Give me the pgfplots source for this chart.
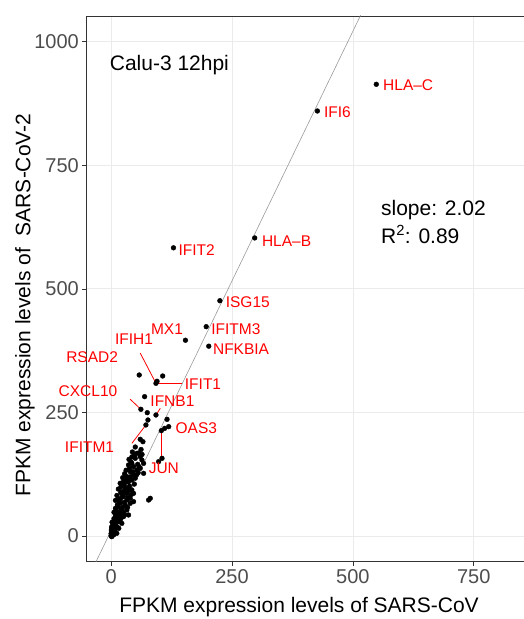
\documentclass[border=0pt]{standalone}
\usepackage{pgfplots}
\pgfplotsset{compat=1.18}
\usepackage{fontspec}
\setmainfont{Liberation Sans}
\definecolor{gridc}{HTML}{EBEBEB}
\definecolor{tickc}{HTML}{4D4D4D}
\definecolor{axc}{HTML}{333333}
\definecolor{fitc}{HTML}{9A9A9A}
\definecolor{labred}{HTML}{FF0000}
\newcommand{\lab}{\fontsize{15.5}{16}\selectfont}
\newcommand{\bigf}{\fontsize{21}{24}\selectfont}
\begin{document}
\begin{tikzpicture}[x=1pt,y=1pt]
\useasboundingbox (0,0) rectangle (524,619);
\begin{axis}[
  at={(86.3pt,57.3pt)}, anchor=south west,
  scale only axis, width=437.7pt, height=545.7pt,
  xmin=-51.3, xmax=854, ymin=-52, ymax=1052,
  xtick={0,250,500,750}, ytick={0,250,500,750,1000},
  grid=major, major grid style={gridc, line width=0.7pt},
  axis line style={draw=none},
  tick pos=left,
  tick style={axc, line width=0.6pt},
  tick align=outside, major tick length=4pt,
  tick label style={font=\fontsize{20}{20}\selectfont, text=tickc},
  /pgf/number format/assume math mode=true,
  /pgf/number format/1000 sep={},
  clip mode=individual,
  xlabel={FPKM expression levels of SARS-CoV},
  ylabel={FPKM expression levels of\ \ SARS-CoV-2},
  every axis x label/.style={at={(axis description cs:0.486,-0.0922)}, anchor=base, font=\bigf},
  every axis y label/.style={at={(axis description cs:-0.1401,0.4704)}, rotate=90, anchor=center, font=\bigf},
]
\draw[axc, line width=0.9pt] (rel axis cs:1,1) -- (rel axis cs:0,1) -- (rel axis cs:0,0) -- (rel axis cs:1,0);
\addplot[fitc, line width=0.6pt] coordinates {(-60,-110.2) (540,1101.8)};
% label segments (drawn under the points)
\addplot[draw=labred, line width=0.8pt] coordinates {(60.3,369.9) (92.8,308.9)};
\addplot[draw=labred, line width=0.8pt] coordinates {(146.9,308.9) (92.8,308.9)};
\addplot[draw=labred, line width=0.8pt] coordinates {(39.5,276.6) (61.6,256.3)};
\addplot[draw=labred, line width=0.8pt] coordinates {(101.8,258.3) (92.8,244.8)};
\addplot[draw=labred, line width=0.8pt] coordinates {(43,187.5) (72,224.6)};
\addplot[draw=labred, line width=0.8pt] coordinates {(103.9,157) (103.9,213.1)};
\addplot[only marks, mark=*, mark size=2.4pt, black] table {
x y
548.5 913.8
426.6 859.8
297 603
129 583
225 476
196.7 423.5
202 384
153.7 396
92.8 308.9
95 313
58.2 325.7
106.7 323.7
69.3 281.9
61.6 256.3
74.8 249.5
92.8 244.8
76.2 234.7
72 224.6
115.7 236
119.1 221.2
110.8 217.8
103.9 213.1
60.3 195.6
105.3 157.1
98.3 150.4
81 76.2
77.6 72.8
53.3 167.2
60.3 160.5
63.7 153.8
67.2 147
49.9 157.1
42.9 147
36 143.6
46.4 140.3
53.3 133.5
60.3 136.9
67.2 126.8
39.5 130.2
32.6 120
46.4 123.4
25.6 109.9
18.7 106.6
36 109.9
42.9 113.3
29.1 93.1
22.2 89.7
32.6 86.3
42.9 93.1
46.4 86.3
25.6 79.6
39.5 76.2
32.6 72.8
18.7 66.1
29.1 62.7
39.5 66.1
46.4 69.5
22.2 52.6
32.6 52.6
15.9 42.5
25.6 39.1
36 42.5
18.7 32.4
11.8 29
8.3 22.3
22.2 25.6
4.8 15.5
15.9 15.5
8.3 8.8
4.8 2
1.4 -1.3
11.8 5.4
65.8 190.8
0 0
0.5 1
1 3
2 1
0 5
1.5 7
3 4
2 10
4 8
5 3
0.5 12
3 14
6 11
1 18
5 19
8 14
4 24
7 27
10 21
2 28
12 33
6 35
14 38
9 40
16 47
11 50
20 55
14 60
24 58
17 70
27 68
20 76
35 78
23 84
30 98
38 101
27 104
48 105
33 115
40 120
50 117
28 126
45 130
38 137
55 145
41 150
48 162
57 168
44 170
50 180
62 175
35 96
15 95
20 88
9 72
13 63
6 48
10 44
16 29
20 36
25 48
28 43
34 58
36 92
53 124
58 140
37 155
31 133
24 118
12 82
3 20
7 17
1 9
6 6
13 18
64 165
56 128
43 160
30 110
21 100
27 90
14 74
19 45
10 35
2 16
9 56
42 84
};
% text annotations
\node[anchor=base west, inner sep=0pt, font=\bigf] at (axis cs:-3,942.7) {Calu-3 12hpi};
\node[anchor=base west, inner sep=0pt, font=\bigf] at (axis cs:558,648) {slope: 2.02};
\node[anchor=base west, inner sep=0pt, font=\bigf] at (axis cs:558,592.2) {R\textsuperscript{2}: 0.89};
% gene labels
\node[anchor=west, text=labred, inner sep=0pt, font=\lab] at (axis cs:562.4,913) {HLA–C};
\node[anchor=west, text=labred, inner sep=0pt, font=\lab] at (axis cs:440,857.8) {IFI6};
\node[anchor=west, text=labred, inner sep=0pt, font=\lab] at (axis cs:311.7,596.8) {HLA–B};
\node[anchor=west, text=labred, inner sep=0pt, font=\lab] at (axis cs:139,578.6) {IFIT2};
\node[anchor=west, text=labred, inner sep=0pt, font=\lab] at (axis cs:236.9,473.4) {ISG15};
\node[anchor=west, text=labred, inner sep=0pt, font=\lab] at (axis cs:207,418.8) {IFITM3};
\node[anchor=west, text=labred, inner sep=0pt, font=\lab] at (axis cs:210.5,377.7) {NFKBIA};
\node[anchor=center, text=labred, inner sep=0pt, font=\lab] at (axis cs:115.5,418.8) {MX1};
\node[anchor=center, text=labred, inner sep=0pt, font=\lab] at (axis cs:47.5,398) {IFIH1};
\node[anchor=center, text=labred, inner sep=0pt, font=\lab] at (axis cs:-39.2,362.8) {RSAD2};
\node[anchor=west, text=labred, inner sep=0pt, font=\lab] at (axis cs:152.3,307.5) {IFIT1};
\node[anchor=center, text=labred, inner sep=0pt, font=\lab] at (axis cs:-47.8,292) {CXCL10};
\node[anchor=west, text=labred, inner sep=0pt, font=\lab] at (axis cs:81,273.1) {IFNB1};
\node[anchor=west, text=labred, inner sep=0pt, font=\lab] at (axis cs:133,217.9) {OAS3};
\node[anchor=center, text=labred, inner sep=0pt, font=\lab] at (axis cs:-44.6,180.7) {IFITM1};
\node[anchor=west, text=labred, inner sep=0pt, font=\lab] at (axis cs:77.5,137) {JUN};
\end{axis}
\end{tikzpicture}
\end{document}
